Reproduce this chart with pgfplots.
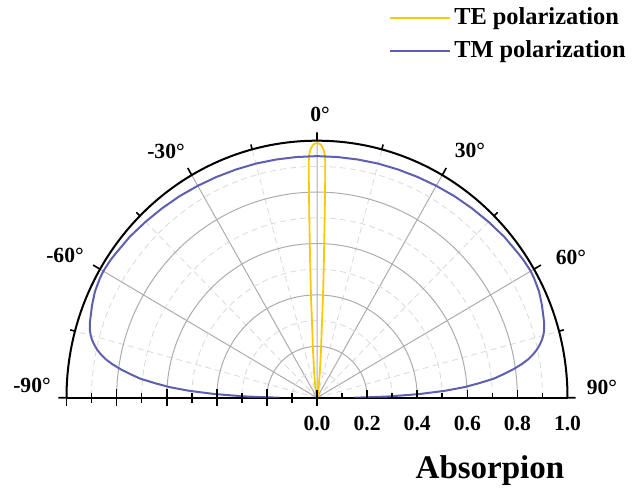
\documentclass[border=0pt]{standalone}
\usepackage{pgfplots}
\pgfplotsset{compat=1.18}
\usepackage{pgfplotstable}
\usepgfplotslibrary{polar}
\usepackage{fontspec}
\setmainfont{Liberation Serif}
\definecolor{teY}{RGB}{252,200,10}
\definecolor{tmB}{RGB}{95,95,175}

\pgfplotstableread{
t r
-90 0.15
-89.5 0.21
-89 0.29
-88 0.41
-87 0.51
-86 0.59
-85 0.65
-84 0.71
-83 0.75
-82 0.79
-81 0.825
-80 0.855
-79 0.878
-78 0.897
-77 0.912
-76 0.925
-75 0.935
-74 0.943
-72 0.953
-70 0.960
-68 0.968
-65 0.978
-62 0.983
-60 0.985
-57 0.983
-55 0.980
-50 0.975
-45 0.968
-40 0.962
-35 0.957
-30 0.952
-25 0.948
-20 0.945
-15 0.943
-10 0.941
-5 0.940
0 0.940
5 0.940
10 0.941
15 0.943
20 0.945
25 0.948
30 0.952
35 0.957
40 0.962
45 0.968
50 0.975
55 0.980
57 0.983
60 0.985
62 0.983
65 0.978
68 0.968
70 0.960
72 0.953
74 0.943
75 0.935
76 0.925
77 0.912
78 0.897
79 0.878
80 0.855
81 0.825
82 0.79
83 0.75
84 0.71
85 0.65
86 0.59
87 0.51
88 0.41
89 0.29
89.5 0.21
90 0.15
}\tmdata

\pgfplotstableread{
t r
-90 0
-45 0.001
-30 0.003
-20 0.006
-15 0.012
-10 0.03
-8 0.055
-7 0.08
-6 0.12
-5 0.18
-4.1 0.26
-3.5 0.39
-3 0.52
-2.6 0.66
-2.3 0.80
-2.1 0.91
-1.9 0.945
-1.5 0.968
-1 0.982
-0.5 0.989
0 0.99
0.5 0.989
1 0.982
1.5 0.968
1.9 0.945
2.1 0.91
2.3 0.80
2.6 0.66
3 0.52
3.5 0.39
4.1 0.26
5 0.18
6 0.12
7 0.08
8 0.055
10 0.03
15 0.012
20 0.006
30 0.003
45 0.001
90 0
}\tedata

\begin{document}
\begin{tikzpicture}
\begin{polaraxis}[
  scale only axis, width=250.5pt,
  yscale=1.026,
  xmin=0, xmax=180, ymin=0, ymax=1,
  xtick={0,30,60,90,120,150,180},
  xticklabels=\empty,
  minor xtick={15,45,75,105,135,165},
  ytick={0,0.2,0.4,0.6,0.8,1},
  minor ytick={0.1,0.3,0.5,0.7,0.9},
  /pgf/number format/assume math mode=true,
  ticklabel style={font=\bfseries\fontsize{10.8}{12}\selectfont},
  yticklabel style={yshift=-20pt, /pgf/number format/.cd, fixed, fixed zerofill, precision=1},
  grid=both,
  major grid style={gray!65, line width=0.5pt},
  minor grid style={densely dashed, gray!30, line width=0.4pt},
  axis line style={black, line width=1pt},
  tick align=inside,
  major tick length=4pt, minor tick length=2.5pt,
  tick style={black, line width=0.8pt},
  legend style={at={(axis description cs:1.135,1.51)}, anchor=north east, draw=none, fill=none,
    font=\bfseries\fontsize{12.2}{14}\selectfont, row sep=2.5pt, nodes={inner xsep=1.5pt}},
  legend cell align=left,
  legend image code/.code={\draw[#1] (0,0) -- (30pt,0);},
]
\addplot[teY, line width=0.9pt] table[x expr={90-\thisrow{t}}, y=r] {\tedata};
\addplot[tmB, line width=1pt] table[x expr={90-\thisrow{t}}, y=r] {\tmdata};
\legend{TE polarization, TM polarization}
\pgfplotsinvokeforeach{0.2,0.4,0.6,0.8}{\draw[black, line width=0.8pt] (axis cs:180,#1) -- ++(0,4pt);}
\pgfplotsinvokeforeach{0.1,0.3,0.5,0.7,0.9}{\draw[black, line width=0.8pt] (axis cs:180,#1) -- ++(0,2.5pt);}
\coordinate (O) at (axis cs:0,0);
\end{polaraxis}
\foreach \r in {0,0.2,0.4,0.6,0.8} {\draw[black, line width=0.8pt] ([xshift={\r*125.25pt}]O) -- ++(0,4pt);}
\foreach \r in {0.1,0.3,0.5,0.7,0.9} {\draw[black, line width=0.8pt] ([xshift={\r*125.25pt}]O) -- ++(0,2.5pt);}
\begin{scope}[every node/.style={font=\bfseries\fontsize{10.8}{12}\selectfont, inner sep=0pt}]
\node at ([shift={(1.5pt,141.4pt)}]O) {0°};
\node at ([shift={(-75.5pt,122.9pt)}]O) {-30°};
\node at ([shift={(76.5pt,123.4pt)}]O) {30°};
\node at ([shift={(-126pt,70.9pt)}]O) {-60°};
\node at ([shift={(127pt,69.9pt)}]O) {60°};
\node at ([shift={(-142.5pt,5.9pt)}]O) {-90°};
\node at ([shift={(142.5pt,4.9pt)}]O) {90°};
\end{scope}
\node[font=\bfseries\fontsize{16.5}{18}\selectfont] at ([shift={(86.5pt,-36.5pt)}]O) {Absorpion};
\pgfresetboundingbox
\path (O) ++(-158.5pt,-45.15pt) rectangle ++(318pt,244pt);
\end{tikzpicture}
\end{document}
